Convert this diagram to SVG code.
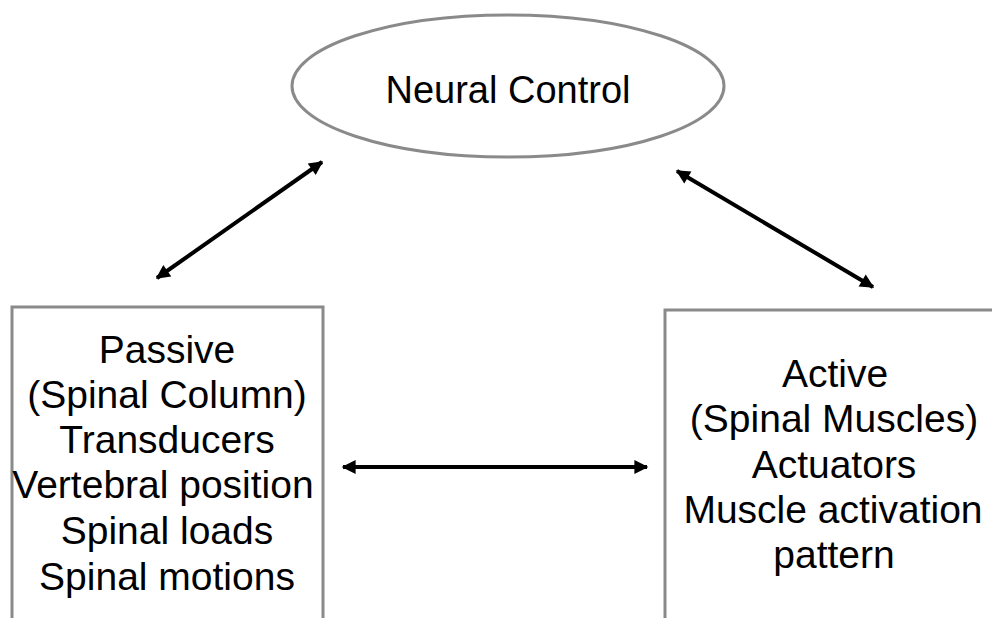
<svg xmlns="http://www.w3.org/2000/svg" width="992" height="618" viewBox="0 0 992 618">
<defs>
<marker id="ah" viewBox="0 0 10 10" markerUnits="userSpaceOnUse" markerWidth="17" markerHeight="14" refX="9" refY="5" orient="auto-start-reverse">
<path d="M0,0 L10,5 L0,10 z" fill="#000"/>
</marker>
</defs>
<style>
.shape{fill:#fff;stroke:#8a8a8a;stroke-width:3}
.t{font-family:"Liberation Sans",Arial,sans-serif;fill:#000;text-anchor:middle}
.lbl{font-size:39px}
.conn{stroke:#000;stroke-width:4;fill:none;marker-start:url(#ah);marker-end:url(#ah)}
</style>
<rect width="992" height="618" fill="#fff"/>
<g id="neural-control">
<ellipse class="shape" cx="508" cy="86" rx="216" ry="71"/>
<text class="t" x="508" y="103" font-size="38">Neural Control</text>
</g>
<g id="passive">
<rect class="shape" x="12" y="307" width="311" height="330"/>
<text class="t lbl" x="167" y="363">Passive</text>
<text class="t lbl" x="167" y="408">(Spinal Column)</text>
<text class="t lbl" x="167" y="453">Transducers</text>
<text class="t lbl" x="163" y="498">Vertebral position</text>
<text class="t lbl" x="167" y="544">Spinal loads</text>
<text class="t lbl" x="167" y="590">Spinal motions</text>
</g>
<g id="active">
<rect class="shape" x="665" y="310" width="340" height="330"/>
<text class="t lbl" x="835" y="387">Active</text>
<text class="t lbl" x="834" y="432">(Spinal Muscles)</text>
<text class="t lbl" x="834" y="478">Actuators</text>
<text class="t lbl" x="833" y="523">Muscle activation</text>
<text class="t lbl" x="834" y="568">pattern</text>
</g>
<g id="connectors">
<line class="conn" x1="157" y1="278" x2="322" y2="162"/>
<line class="conn" x1="677" y1="171" x2="873" y2="287"/>
<line class="conn" x1="343" y1="467" x2="647" y2="467"/>
</g>
</svg>
